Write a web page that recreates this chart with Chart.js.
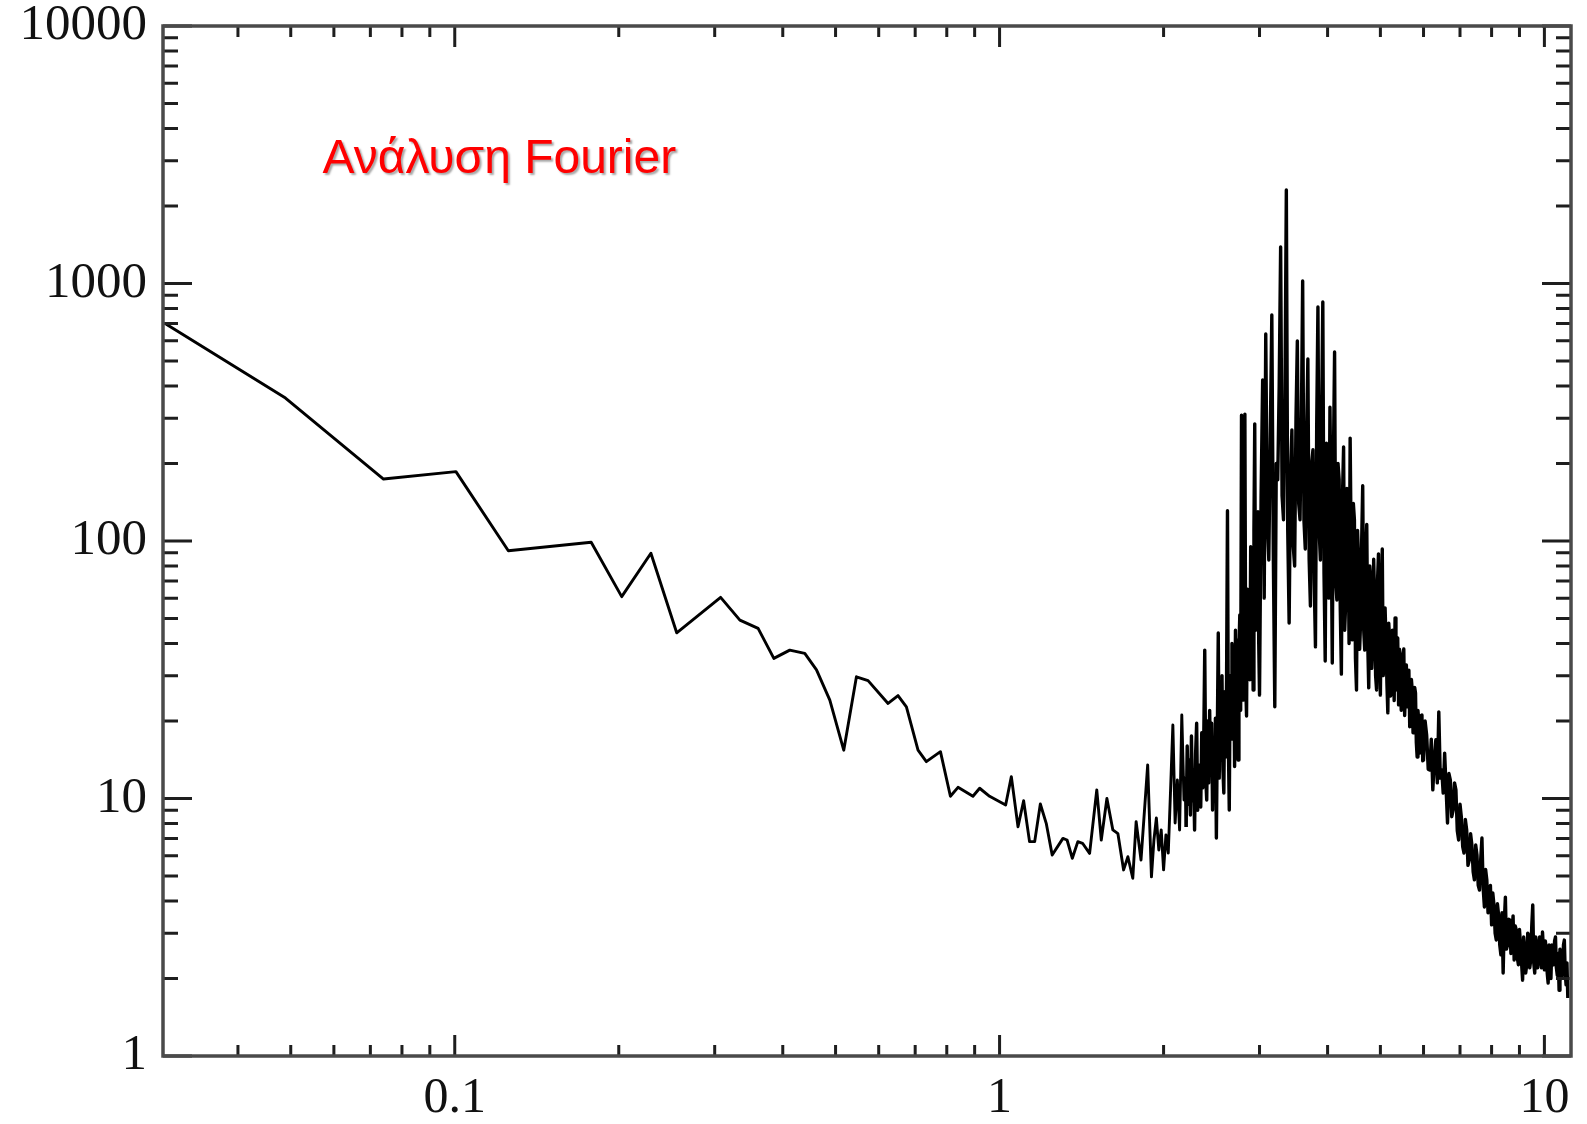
<!DOCTYPE html>
<html><head><meta charset="utf-8">
<script src="https://cdn.jsdelivr.net/npm/chart.js@4.4.1/dist/chart.umd.min.js"></script>
<style>html,body{margin:0;padding:0;background:#fff}#wrap{width:1587px;height:1124px;position:relative}</style>
</head><body><div id="wrap"><canvas id="c"></canvas></div>
<script>
const titleText = 'Ανάλυση Fourier';
const xTickValues = [0.1, 1, 10];
const xTickLabels = ['0.1', '1', '10'];
const yTickValues = [1, 10, 100, 1000, 10000];
const yTickLabels = ['1', '10', '100', '1000', '10000'];
const xMinorTicks = [0.04, 0.05, 0.06, 0.07, 0.08, 0.09, 0.2, 0.3, 0.4, 0.5, 0.6, 0.7, 0.8, 0.9, 2, 3, 4, 5, 6, 7, 8, 9];
const yMinorTicks = [2, 3, 4, 5, 6, 7, 8, 9, 20, 30, 40, 50, 60, 70, 80, 90, 200, 300, 400, 500, 600, 700, 800, 900, 2000, 3000, 4000, 5000, 6000, 7000, 8000, 9000];

const freqLow = [0.0295, 0.0489, 0.074, 0.1005, 0.1254, 0.178, 0.2025, 0.2291, 0.2555, 0.3076, 0.3337, 0.3604, 0.3852, 0.412, 0.439, 0.4613, 0.488, 0.5176, 0.5461, 0.5736, 0.6242, 0.651, 0.6745, 0.7085, 0.7338, 0.7789, 0.8124, 0.8389, 0.8935, 0.9192, 0.9587, 1.026, 1.051, 1.081, 1.107, 1.135, 1.16, 1.188, 1.218, 1.249, 1.307, 1.33, 1.36, 1.392, 1.42, 1.463, 1.508, 1.537, 1.574, 1.614, 1.649, 1.689, 1.72, 1.756, 1.781, 1.818];
const powerLow = [696, 359, 174, 186, 91.7, 98.9, 60.8, 89.6, 44.0, 60.4, 49.3, 45.8, 35.0, 37.7, 36.6, 31.6, 24.1, 15.4, 29.7, 28.7, 23.4, 25.1, 22.7, 15.4, 13.9, 15.2, 10.2, 11.05, 10.2, 10.96, 10.2, 9.44, 12.16, 7.77, 9.8, 6.8, 6.8, 9.52, 8.01, 6.03, 7.0, 6.9, 5.86, 6.8, 6.7, 6.12, 10.8, 6.9, 10.0, 7.55, 7.3, 5.28, 5.94, 4.9, 8.13, 5.77];

const freqRise = [1.87, 1.90, 1.92, 1.94, 1.96, 1.98, 2.00, 2.02, 2.04, 2.06, 2.08, 2.10, 2.12, 2.14, 2.16, 2.18,
  2.19, 2.20, 2.21, 2.22, 2.23, 2.24, 2.25, 2.26, 2.27, 2.28,
  2.29, 2.30, 2.31, 2.32, 2.33, 2.34, 2.35, 2.36, 2.37, 2.38,
  2.39, 2.40, 2.41, 2.42, 2.43, 2.44, 2.45, 2.46, 2.47, 2.48,
  2.49, 2.50, 2.51, 2.52, 2.53, 2.54, 2.55, 2.56, 2.57, 2.58,
  2.59, 2.60, 2.61, 2.62, 2.63, 2.64, 2.65, 2.66, 2.67, 2.68,
  2.69, 2.70, 2.71, 2.72, 2.73, 2.74, 2.75, 2.76, 2.77, 2.78,
  2.79, 2.80, 2.81, 2.82, 2.83, 2.84, 2.85, 2.86, 2.87, 2.88,
  2.89, 2.90, 2.91, 2.92, 2.93, 2.94, 2.95, 2.96, 2.97, 2.98,
  2.99, 3.00];
const powerRise = [13.5, 4.96, 6.90, 8.40, 6.31, 7.55, 5.28, 7.22, 6.14, 10.8, 19.3, 8.03, 11.8, 7.55, 21.1, 9.87,
  12.0, 7.75, 16.0, 9.5, 14.1, 8.63, 17.5, 9.8, 12.9, 7.55,
  15.0, 19.6, 9.0, 13.5, 10.8, 9.27, 18.0, 11.0, 16.9, 37.7,
  12.0, 9.87, 20.0, 11.5, 22.0, 12.5, 19.6, 9.02, 16.0, 11.8,
  20.5, 7.02, 18.0, 43.9, 12.0, 24.0, 14.1, 30.0, 13.0, 10.5,
  26.0, 14.5, 28.9, 131, 16.0, 9.02, 30.0, 17.0, 40.0, 20.0,
  34.5, 13.3, 45.0, 18.0, 41.3, 14.1, 38.0, 51.6, 22.0, 308,
  30.0, 24.1, 70.0, 311, 28.0, 20.9, 65.0, 30.0, 59.0, 28.9,
  95.0, 40.0, 84.4, 26.4, 110, 285, 45.0, 90.0, 49.4, 130,
  40.0, 25.2];

const freqPeak = [3.02, 3.04, 3.06, 3.08, 3.10, 3.12, 3.14, 3.16, 3.18, 3.20,
  3.22, 3.24, 3.26, 3.28, 3.30, 3.32, 3.34, 3.36, 3.38, 3.40,
  3.42, 3.44, 3.46, 3.48, 3.50, 3.52, 3.54, 3.56, 3.58, 3.60,
  3.62, 3.64, 3.66, 3.68, 3.70, 3.72, 3.74, 3.76, 3.78, 3.80,
  3.82, 3.84, 3.86, 3.88, 3.90, 3.92, 3.94, 3.96, 3.98, 4.00,
  4.02, 4.04, 4.06, 4.08, 4.10, 4.12, 4.14, 4.16, 4.18, 4.20,
  4.22, 4.24, 4.26, 4.28, 4.30, 4.32, 4.34, 4.36, 4.38, 4.40,
  4.42, 4.44, 4.46, 4.48, 4.50, 4.52, 4.54, 4.56, 4.58, 4.60,
  4.62, 4.64, 4.66, 4.68, 4.70, 4.72, 4.74, 4.76, 4.78, 4.80,
  4.82, 4.84, 4.86, 4.88, 4.90, 4.92, 4.94, 4.96, 4.98, 5.00,
  5.02, 5.04, 5.06, 5.08, 5.10, 5.12, 5.14, 5.16, 5.18, 5.20,
  5.22, 5.24, 5.26, 5.28, 5.30, 5.32, 5.34, 5.36, 5.38, 5.40,
  5.42, 5.44, 5.46, 5.48, 5.50, 5.52, 5.54, 5.56, 5.58, 5.60,
  5.62, 5.64, 5.66, 5.68, 5.70, 5.72, 5.74, 5.76, 5.78, 5.80,
  5.82, 5.84, 5.86, 5.88, 5.90, 5.92, 5.94, 5.96, 5.98, 6.00];
const powerPeak = [150, 422, 60, 637, 120, 84.4, 260, 755, 90, 22.7,
  200, 173, 400, 1386, 150, 121, 350, 2307, 110, 48.0,
  180, 270, 95, 80.0, 300, 598, 140, 121, 280, 1023,
  120, 93.1, 250, 509, 85, 55.9, 200, 226, 70, 38.8,
  280, 811, 110, 84.4, 300, 848, 75, 34.2, 240, 189,
  60, 331, 130, 33.6, 210, 542, 70, 59.0, 200, 173,
  55, 30.4, 150, 232, 45, 59.0, 160, 121, 40, 251,
  90, 41.3, 140, 121, 35, 26.4, 110, 84.4, 38, 49.4,
  100, 164, 45, 37.7, 90, 116, 40, 26.9, 80, 70.6,
  32, 41.3, 85, 59.0, 30, 26.4, 70, 89.1, 35, 25.2,
  60, 93.1, 30, 34.5, 55, 41.3, 28, 21.5, 48, 41.3,
  25, 26.4, 45, 34.5, 24, 50.2, 30, 26.4, 42, 23.1,
  38, 34.5, 22, 24.1, 36, 38.1, 21, 26.4, 33, 22.7,
  30, 31.5, 19, 24.1, 29, 26.4, 18, 18.5, 27, 25.7,
  16.5, 14.5, 22, 20.2, 15, 16.1, 21, 21.1, 14, 14.1];

const freqTail = [6.04, 6.08, 6.12, 6.16, 6.20, 6.24, 6.28, 6.32, 6.36, 6.40,
  6.44, 6.48, 6.52, 6.56, 6.60, 6.64, 6.68, 6.72, 6.76, 6.80,
  6.84, 6.88, 6.92, 6.96, 7.00, 7.04, 7.08, 7.12, 7.16, 7.20,
  7.24, 7.28, 7.32, 7.36, 7.40, 7.44, 7.48, 7.52, 7.56, 7.60,
  7.64, 7.68, 7.72, 7.76, 7.80, 7.84, 7.88, 7.92, 7.96, 8.00,
  8.04, 8.08, 8.12, 8.16, 8.20, 8.24, 8.28, 8.32, 8.36, 8.40,
  8.44, 8.48, 8.52, 8.56, 8.60, 8.64, 8.68, 8.72, 8.76, 8.80,
  8.84, 8.88, 8.92, 8.96, 9.00, 9.04, 9.08, 9.12, 9.16, 9.20,
  9.24, 9.28, 9.32, 9.36, 9.40, 9.44, 9.48, 9.52, 9.56, 9.60,
  9.64, 9.68, 9.72, 9.76, 9.80, 9.84, 9.88, 9.92, 9.96, 10.00,
  10.04, 10.08, 10.12, 10.16, 10.20, 10.24, 10.28, 10.32, 10.36, 10.40,
  10.44, 10.48, 10.52, 10.56, 10.60, 10.64, 10.68, 10.72, 10.76, 10.80,
  10.84, 10.88, 10.92, 10.96, 11.00, 11.04];
const powerTail = [20.0, 17.6, 13.0, 12.9, 17.0, 10.8, 14.0, 16.9, 11.5, 21.7,
  12.0, 12.9, 10.5, 15.0, 11.0, 8.03, 12.5, 11.8, 8.5, 9.02,
  11.5, 10.8, 7.5, 6.90, 9.5, 8.47, 6.5, 6.14, 8.3, 7.55,
  5.5, 5.77, 7.3, 6.60, 5.2, 4.83, 6.6, 6.04, 4.6, 4.41,
  5.8, 7.02, 4.5, 3.79, 5.3, 4.83, 3.6, 4.03, 4.6, 3.23,
  4.3, 3.86, 3.0, 2.82, 3.9, 3.53, 2.7, 2.47, 3.6, 2.10,
  3.3, 4.14, 2.6, 2.70, 3.4, 3.37, 2.5, 3.00, 3.5, 2.36,
  3.2, 3.09, 2.4, 2.26, 3.1, 2.70, 2.3, 1.97, 2.9, 2.58,
  2.1, 2.26, 3.0, 2.95, 2.2, 2.36, 3.2, 3.86, 2.3, 2.10,
  2.9, 2.70, 2.2, 2.36, 2.9, 2.82, 2.2, 3.03, 2.6, 2.16,
  2.8, 2.58, 2.1, 1.92, 2.7, 2.47, 2.0, 2.70, 2.3, 2.26,
  2.8, 2.90, 2.2, 2.06, 2.5, 1.80, 2.6, 2.47, 2.0, 2.16,
  2.7, 2.82, 2.1, 1.89, 2.3, 1.68];

const points = [];
[[freqLow, powerLow], [freqRise, powerRise], [freqPeak, powerPeak], [freqTail, powerTail]].forEach(([f, p]) => {
  const n = Math.min(f.length, p.length);
  for (let i = 0; i < n; i++) points.push({ x: f[i], y: p[i] });
});

const frameTicks = {
  id: 'frameTicks',
  afterDatasetsDraw(chart) {
    const { ctx, chartArea: a, scales: { x, y } } = chart;
    ctx.save();
    ctx.strokeStyle = '#1e1e1e';
    ctx.lineWidth = 3;
    ctx.lineCap = 'butt';
    ctx.beginPath();
    const yTick = (v, len) => {
      const p = y.getPixelForValue(v);
      ctx.moveTo(a.left, p); ctx.lineTo(a.left + len, p);
      ctx.moveTo(a.right, p); ctx.lineTo(a.right - len, p);
    };
    const xTick = (v, len) => {
      const p = x.getPixelForValue(v);
      ctx.moveTo(p, a.bottom); ctx.lineTo(p, a.bottom - len);
      ctx.moveTo(p, a.top); ctx.lineTo(p, a.top + len);
    };
    yMinorTicks.forEach(v => yTick(v, 15));
    yTickValues.forEach(v => yTick(v, 29));
    xMinorTicks.forEach(v => xTick(v, 11));
    xTickValues.forEach(v => xTick(v, 21));
    ctx.stroke();
    ctx.strokeStyle = '#4a4a4a';
    ctx.lineWidth = 3.5;
    ctx.strokeRect(a.left, a.top, a.right - a.left, a.bottom - a.top);
    ctx.restore();
  }
};

const titlePlugin = {
  id: 'titleText',
  afterDraw(chart) {
    const ctx = chart.ctx;
    ctx.save();
    ctx.font = '48px "Liberation Sans", Arial, sans-serif';
    ctx.textAlign = 'left';
    ctx.textBaseline = 'alphabetic';
    ctx.shadowColor = 'rgba(0,0,0,0.35)';
    ctx.shadowOffsetX = 2;
    ctx.shadowOffsetY = 2;
    ctx.shadowBlur = 2;
    ctx.fillStyle = '#ff0000';
    ctx.fillText(titleText, 322.5, 173);
    ctx.restore();
  }
};

new Chart(document.getElementById('c'), {
  type: 'line',
  data: { datasets: [{ data: points, borderColor: '#000', borderWidth: 2.9, pointRadius: 0, tension: 0, fill: false, borderJoinStyle: 'round',
    segment: { borderWidth: c => (c.p0.parsed.x >= 2.2 ? 3.4 : 2.9) } }] },
  options: {
    responsive: true, maintainAspectRatio: false, animation: false,
    layout: { padding: { top: 26, right: 16, left: 0, bottom: 0 } },
    plugins: { legend: { display: false }, tooltip: { enabled: false }, title: { display: false } },
    scales: {
      x: {
        type: 'logarithmic', min: 0.02914, max: 11.19,
        grid: { display: false, drawTicks: false }, border: { display: false },
        afterBuildTicks: s => { s.ticks = xTickValues.map(v => ({ value: v })); },
        afterFit: s => { s.height = 68; },
        ticks: { autoSkip: false, maxRotation: 0, minRotation: 0, padding: 13, color: '#111',
          font: { family: '"Liberation Serif", "Times New Roman", serif', size: 50, lineHeight: 1.2 },
          callback: (v, i) => xTickLabels[i] }
      },
      y: {
        type: 'logarithmic', min: 1, max: 10000,
        grid: { display: false, drawTicks: false }, border: { display: false },
        afterBuildTicks: s => { s.ticks = yTickValues.map(v => ({ value: v })); },
        afterFit: s => { s.width = 163; },
        ticks: { autoSkip: false, padding: 16, color: '#111',
          font: { family: '"Liberation Serif", "Times New Roman", serif', size: 51, lineHeight: 0.38 },
          callback: (v, i) => yTickLabels[i] }
      }
    }
  },
  plugins: [frameTicks, titlePlugin]
});
</script></body></html>
